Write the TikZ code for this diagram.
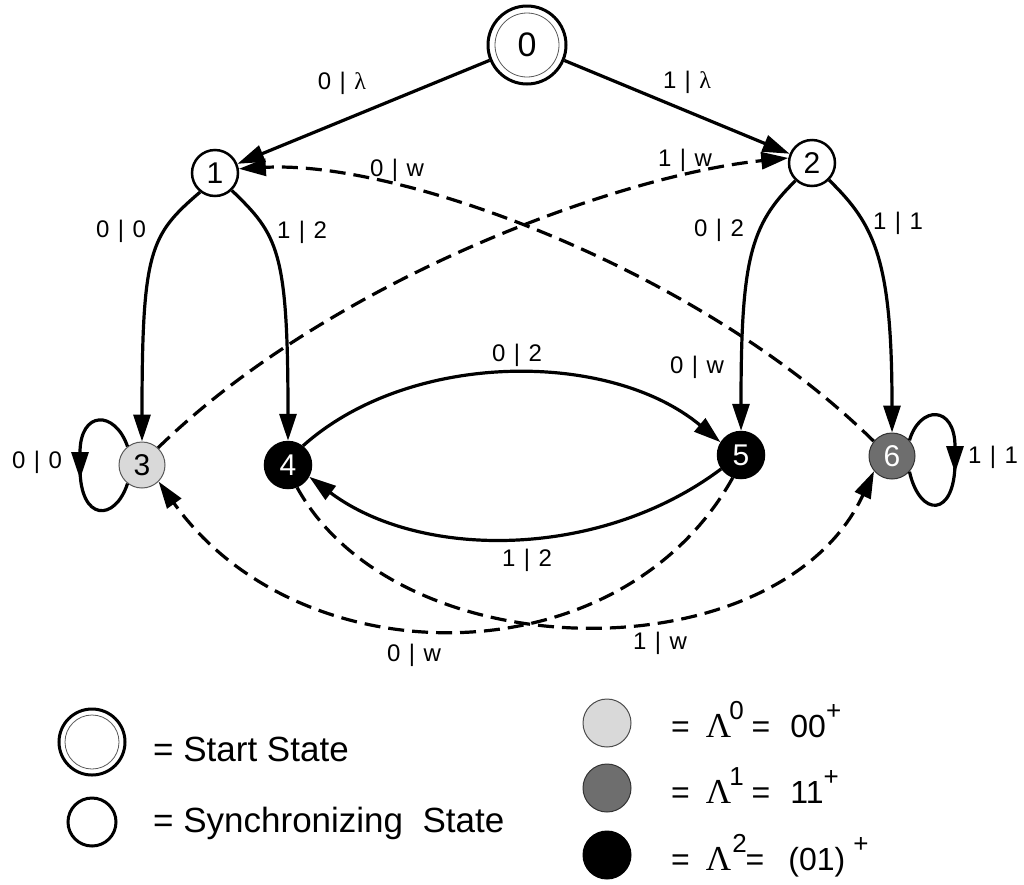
\documentclass[tikz,border=0pt]{standalone}
\usepackage{fontspec}
\setmainfont{Liberation Sans}
\newfontfamily\symfont{Liberation Serif}
\usetikzlibrary{arrows.meta}
\definecolor{lgray}{gray}{0.85}
\definecolor{dgray}{gray}{0.43}
\newcommand\edgetext[2]{#1\hspace{0.35em}|\hspace{0.35em}#2}
\newcommand\lam{{\symfont λ}}
\newcommand\bigLam{{\fontsize{35}{35}\symfont Λ}}
\newcommand\supsc[1]{\raisebox{18pt}{\fontsize{26}{26}\selectfont #1}}
\begin{document}
\begin{tikzpicture}[x=1pt,y=-1pt,
  state/.style={circle, draw, line width=2.5pt, minimum size=46pt, inner sep=0pt, font=\fontsize{30}{30}\selectfont},
  edge/.style={line width=3.2pt, -{Triangle[length=27pt,width=17pt]}},
  plain/.style={line width=3.2pt},
  dedge/.style={edge, dash pattern=on 16pt off 8pt},
  lab/.style={font=\fontsize{24}{25}\selectfont, inner sep=0pt},
  legtext/.style={anchor=base west, inner sep=0pt, font=\fontsize{35}{36}\selectfont},
  lamtext/.style={anchor=base west, inner sep=0pt, font=\fontsize{32}{34}\selectfont},
  legdot/.style={circle, draw, line width=1pt, minimum size=48pt, inner sep=0pt}]
\useasboundingbox (0,0) rectangle (1024,884);

% states
\node[state, line width=3pt, minimum size=78pt, font=\fontsize{34}{34}\selectfont] (n0) at (527,45) {0};
\draw[line width=0.8pt, gray!70!black] (n0.center) circle[radius=32];
\node[state] (n1) at (215,173) {1};
\node[state] (n2) at (812,163) {2};
\node[state, fill=lgray, line width=1pt, draw=gray!70!black] (n3) at (142,465) {3};
\node[state, fill=black, text=white] (n4) at (288,465) {4};
\node[state, fill=black, text=white] (n5) at (741,455) {5};
\node[state, fill=dgray, text=white, line width=1pt, draw=gray!40!black] (n6) at (892,456) {6};

% solid transitions
\draw[edge] (n0) -- (n1);
\draw[edge] (n0) -- (n2);
\draw[edge] (n1.232) .. controls (150,235) and (142,250) .. (n3.north);
\draw[edge] (n1.314) .. controls (278,235) and (288,250) .. (n4.north);
\draw[edge] (n2.227) .. controls (750,225) and (741,260) .. (n5.north);
\draw[edge] (n2.315) .. controls (875,225) and (892,260) .. (n6.north);
\draw[edge] (n4.52) .. controls (410,350) and (610,350) .. (n5.148);
\draw[edge] (n5.215) .. controls (600,560) and (420,560) .. (n4.331);

% self loops
\coordinate (l3a) at (80,479);
\coordinate (l3b) at (80,468);
\draw[edge] (n3.128) .. controls (115,410) and (80,410) .. (l3a);
\draw[plain] (l3b) .. controls (80,522) and (115,522) .. (n3.232);
\coordinate (r6a) at (955,473);
\coordinate (r6b) at (955,462);
\draw[edge] (n6.42) .. controls (920,405) and (955,405) .. (r6a);
\draw[plain] (r6b) .. controls (955,518) and (920,518) .. (n6.-42);

% dashed transitions
\draw[dedge] (n3.47) .. controls (330,280) and (620,175) .. (n2.168);
\draw[dedge] (n6.141) .. controls (700,270) and (400,160) .. (n1.10);
\draw[dedge] (n5.250) .. controls (620,680) and (300,680) .. (n3.-45);
\draw[dedge] (n4.292) .. controls (400,674) and (780,674) .. (n6.220);

% labels
\node[lab] (t01) at (342,83) {\edgetext{0}{\lam}};
\node[lab] (t02) at (687,82) {\edgetext{1}{\lam}};
\node[lab] (t61) at (397,170) {\edgetext{0}{w}};
\node[lab] (t32) at (685,160) {\edgetext{1}{w}};
\node[lab] (t13) at (121,231) {\edgetext{0}{0}};
\node[lab] (t14) at (302,232) {\edgetext{1}{2}};
\node[lab] (t25) at (719,230) {\edgetext{0}{2}};
\node[lab] (t26) at (898,223) {\edgetext{1}{1}};
\node[lab] (t45) at (517,355) {\edgetext{0}{2}};
\node[lab] (t5w) at (697,367) {\edgetext{0}{w}};
\node[lab] (t54) at (527,560) {\edgetext{1}{2}};
\node[lab] (t53) at (414,655) {\edgetext{0}{w}};
\node[lab] (t46) at (660,643) {\edgetext{1}{w}};
\node[lab] (t33) at (37,462) {\edgetext{0}{0}};
\node[lab] (t66) at (993,457) {\edgetext{1}{1}};

% legend
\node[circle, draw, line width=3pt, minimum size=66pt, inner sep=0pt] (ls) at (92,742) {};
\draw[line width=0.8pt, gray!70!black] (ls.center) circle[radius=27];
\node[circle, draw, line width=3pt, minimum size=48pt, inner sep=0pt] (lsync) at (92,822) {};
\node[legtext] (tstart) at (153,761) {= Start State};
\node[legtext] (tsync) at (153,832) {= Synchronizing\ \ State};

\node[legdot, fill=lgray, draw=gray!60!black] (d0) at (607,723) {};
\node[legdot, fill=dgray, draw=gray!40!black] (d1) at (607,788) {};
\node[legdot, fill=black] (d2) at (607,855) {};
\node[lamtext] (e0) at (671,737) {=\hspace{16pt}\bigLam\hspace{-2pt}\supsc{0}\hspace{8pt}=\hspace{20pt}00\supsc{+}};
\node[lamtext] (e1) at (671,803) {=\hspace{16pt}\bigLam\hspace{-2pt}\supsc{1}\hspace{8pt}=\hspace{20pt}11\supsc{+}};
\node[lamtext] (e2) at (671,870) {=\hspace{16pt}\bigLam\hspace{1pt}\supsc{2}\hspace{-1pt}=\hspace{24pt}(01)\hspace{8pt}\supsc{+}};
\end{tikzpicture}
\end{document}
